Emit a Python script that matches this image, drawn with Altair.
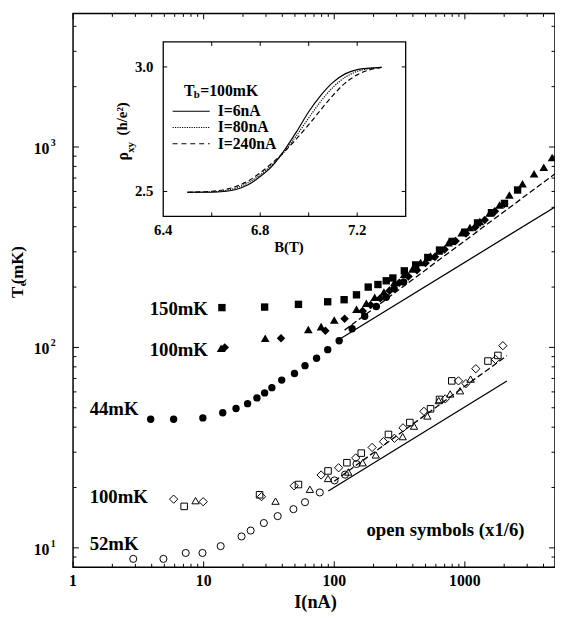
import altair as alt
import pandas as pd

FONT = "Liberation Serif"

# ---------------- main data (I in nA, Te in mK) ----------------
fc_I = [3.93, 5.89, 9.86, 14.0, 17.7, 21.7, 25.6, 29.3, 33.3, 39.6, 49.6, 59.7, 73.2, 89.1, 109, 137, 171, 210, 250, 288, 340]
fc_T = [43.8, 43.8, 44.5, 47.2, 49.6, 52.4, 56.0, 59.3, 63.0, 68.7, 74.1, 81.1, 88.3, 97.5, 108, 124, 143, 160, 178, 196, 212]

fs_I = [13.8, 29.3, 53.2, 89.1, 119, 148, 182, 216, 250, 281, 344, 420, 520, 640, 800, 1000, 1250, 1600, 2010, 2535]
fs_T = [158, 159, 164, 169, 173, 183, 200, 206, 215, 222, 241, 258, 281, 306, 338, 376, 418, 470, 523, 610]

ft_I = [13.6, 29.6, 63.3, 79.3, 100, 148, 176, 204, 240, 289, 343, 397, 458, 545, 631, 750, 946, 1094, 1302, 1549, 1842, 2192, 2764, 3388, 4020, 4655]
ft_T = [99, 111, 123, 127, 137, 155, 166, 178, 189, 211, 232, 246, 265, 286, 303, 333, 373, 397, 425, 468, 514, 576, 656, 735, 793, 887]

fd_I = [14.5, 39.1, 85.5, 120, 165, 190, 225, 265, 315, 370, 430, 500, 590, 700, 850, 1020, 1200, 1420, 1700, 2000]
fd_T = [100, 111, 121, 139, 152, 163, 176, 192, 210, 226, 243, 264, 283, 308, 340, 370, 398, 432, 478, 520]

oc_I = [2.89, 4.92, 7.29, 9.8, 13.5, 19.5, 22.9, 28.9, 36.9, 48.7, 59.7, 77.5, 100.5, 121, 148]
oc_T = [8.81, 8.81, 9.43, 9.43, 10.2, 11.4, 12.2, 13.3, 14.4, 15.6, 16.9, 18.9, 21.7, 23.2, 26.2]

os_I = [7.09, 26.8, 53.2, 89.6, 125, 161, 260, 379, 546, 640, 794, 1503, 1790]
os_T = [16.1, 18.4, 20.7, 24.2, 26.6, 29.7, 36.8, 42.2, 49.4, 55.0, 68.1, 85.5, 91.2]

ot_I = [8.67, 35.5, 65.1, 89.6, 128, 165, 208, 334, 408, 516, 631, 772, 919, 1106]
ot_T = [17.2, 17.1, 19.6, 22.2, 23.9, 26.6, 29.1, 35.9, 40.5, 45.5, 54.3, 58.6, 60.8, 69.5]

od_I = [5.89, 9.92, 27.7, 49.3, 79.3, 108, 146, 195, 238, 289, 336, 486, 708, 893, 1019, 1213, 1718, 1954]
od_T = [17.5, 17.0, 18.0, 20.4, 23.1, 25.1, 28.1, 31.7, 33.9, 35.2, 39.7, 48.0, 55.4, 68.1, 66.0, 78.3, 87.1, 102]

sol_hi_I = [105, 4900]
sol_hi_T = [108, 502]
dash_hi_I = [120, 4900]
dash_hi_T = [122, 735]
sol_lo_I = [90, 2100]
sol_lo_T = [19.2, 68]
dash_lo_I = [100, 2100]
dash_lo_T = [21.5, 91]

ann_text = ["150mK", "100mK", "44mK", "100mK", "52mK", "open symbols (x1/6)"]
ann_I = [3.86, 3.86, 1.34, 1.34, 1.34, 176.5]
ann_T = [156, 97.5, 49.4, 18.0, 10.4, 12.2]

x_major = [1, 10, 100, 1000]
x_major_lab = ["1", "10", "100", "1000"]
x_minor = [2, 3, 4, 5, 6, 7, 8, 9, 20, 30, 40, 50, 60, 70, 80, 90,
           200, 300, 400, 500, 600, 700, 800, 900, 2000, 3000, 4000]
y_major = [10, 100, 1000]
y_major_exp = ["1", "2", "3"]
y_minor = [8, 9, 20, 30, 40, 50, 60, 70, 80, 90, 200, 300, 400, 500, 600, 700, 800, 900, 2000, 3000, 4000]

# ---------------- inset data ----------------
B = [6.50, 6.60, 6.65, 6.70, 6.75, 6.80, 6.85, 6.90, 6.95, 7.00, 7.05, 7.10, 7.15, 7.20, 7.25, 7.30]
rho_6 = [2.497, 2.497, 2.500, 2.508, 2.527, 2.560, 2.603, 2.666, 2.740, 2.820, 2.886, 2.938, 2.972, 2.989, 2.995, 2.998]
rho_80 = [2.497, 2.499, 2.503, 2.514, 2.535, 2.567, 2.608, 2.660, 2.725, 2.795, 2.862, 2.918, 2.958, 2.982, 2.993, 2.998]
rho_240 = [2.497, 2.501, 2.507, 2.520, 2.542, 2.575, 2.615, 2.660, 2.712, 2.768, 2.828, 2.886, 2.935, 2.968, 2.988, 2.998]
b_ticks = [6.6, 6.8, 7.0, 7.2]
b_labels = [6.4, 6.8, 7.2]
b_label_txt = ["6.4", "6.8", "7.2"]
r_ticks = [2.5, 3.0]
r_label_txt = ["2.5", "3.0"]
legend_txt = ["I=6nA", "I=80nA", "I=240nA"]

# ---------------- layout ----------------
W, H = 489, 562
MAJ, MIN = 6, 3.5
XS = alt.Scale(type="log", domain=[1, 4900], nice=False)
YS = alt.Scale(type="log", domain=[8, 4640], nice=False)
IX0, IX1, IY0, IY1 = 91.5, 337.5, 206, 29
BXS = alt.Scale(domain=[6.4, 7.4], range=[IX0, IX1], nice=False, zero=False)
BYS = alt.Scale(domain=[2.4, 3.1], range=[IY0, IY1], nice=False, zero=False)


def X(f):
    return alt.X(f, type="quantitative", scale=XS, axis=None)


def Y(f):
    return alt.Y(f, type="quantitative", scale=YS, axis=None)


def BX(f):
    return alt.X(f, type="quantitative", scale=BXS, axis=None)


def BY(f):
    return alt.Y(f, type="quantitative", scale=BYS, axis=None)


def txt(**kw):
    base = dict(font=FONT, fontWeight="bold", fontSize=16, color="black")
    base.update(kw)
    return base


main_layers = []

# ticks (inward, all four sides)
for vals, ln in [(x_major, MAJ), (x_minor, MIN)]:
    d = pd.DataFrame({"v": vals})
    r = alt.Chart(d).mark_rule(color="black", strokeWidth=1)
    main_layers.append(r.encode(x=X("v"), y=alt.value(H), y2=alt.value(H - ln)))
    main_layers.append(r.encode(x=X("v"), y=alt.value(0), y2=alt.value(ln)))
for vals, ln in [(y_major, MAJ), (y_minor, MIN)]:
    d = pd.DataFrame({"v": vals})
    r = alt.Chart(d).mark_rule(color="black", strokeWidth=1)
    main_layers.append(r.encode(y=Y("v"), x=alt.value(0), x2=alt.value(ln)))
    main_layers.append(r.encode(y=Y("v"), x=alt.value(W), x2=alt.value(W - ln)))

# fit lines
for Ls, Ts, dash in [(sol_hi_I, sol_hi_T, None), (dash_hi_I, dash_hi_T, [6, 3]),
                     (sol_lo_I, sol_lo_T, None), (dash_lo_I, dash_lo_T, [6, 3])]:
    d = pd.DataFrame({"I": Ls, "T": Ts})
    kw = dict(color="black", strokeWidth=1.3)
    if dash:
        kw["strokeDash"] = dash
    main_layers.append(alt.Chart(d).mark_line(**kw).encode(x=X("I"), y=Y("T")))

# open symbols
for Ls, Ts, shape, size in [(oc_I, oc_T, "circle", 52), (os_I, os_T, "square", 44),
                            (ot_I, ot_T, "triangle-up", 55), (od_I, od_T, "diamond", 70)]:
    d = pd.DataFrame({"I": Ls, "T": Ts})
    main_layers.append(alt.Chart(d).mark_point(shape=shape, filled=False, stroke="black",
                                               strokeWidth=1, size=size, opacity=1)
                       .encode(x=X("I"), y=Y("T")))

# filled symbols
for Ls, Ts, shape, size in [(fc_I, fc_T, "circle", 56), (fs_I, fs_T, "square", 56),
                            (ft_I, ft_T, "triangle-up", 78), (fd_I, fd_T, "diamond", 75)]:
    d = pd.DataFrame({"I": Ls, "T": Ts})
    main_layers.append(alt.Chart(d).mark_point(shape=shape, filled=True, fill="black",
                                               size=size, opacity=1, strokeWidth=0)
                       .encode(x=X("I"), y=Y("T")))

# annotations
d = pd.DataFrame({"t": ann_text, "I": ann_I, "T": ann_T})
main_layers.append(alt.Chart(d).mark_text(**txt(align="left", baseline="middle", fontSize=19))
                   .encode(x=X("I"), y=Y("T"), text="t:N"))

# tick labels
d = pd.DataFrame({"v": x_major, "t": x_major_lab})
main_layers.append(alt.Chart(d).mark_text(**txt(align="center", baseline="middle"))
                   .encode(x=X("v"), y=alt.value(H + 14), text="t:N"))
d = pd.DataFrame({"v": y_major, "b": ["10"] * 3, "e": y_major_exp})
main_layers.append(alt.Chart(d).mark_text(**txt(align="right", baseline="middle", dy=2))
                   .encode(y=Y("v"), x=alt.value(-24), text="b:N"))
main_layers.append(alt.Chart(d).mark_text(**txt(align="left", baseline="middle", dy=-4, fontSize=10))
                   .encode(y=Y("v"), x=alt.value(-22.5), text="e:N"))

# axis titles
one = pd.DataFrame({"a": [0]})
main_layers.append(alt.Chart(one).mark_text(**txt(align="center", baseline="middle", fontSize=18.5))
                   .encode(x=alt.value(246), y=alt.value(597), text=alt.value("I(nA)")))
main_layers.append(alt.Chart(one).mark_text(**txt(align="center", baseline="middle", angle=270, fontSize=17))
                   .encode(x=alt.value(-56), y=alt.value(283), text=alt.value("T")))
main_layers.append(alt.Chart(one).mark_text(**txt(align="center", baseline="middle", angle=270, fontSize=11))
                   .encode(x=alt.value(-50.5), y=alt.value(274.5), text=alt.value("e")))
main_layers.append(alt.Chart(one).mark_text(**txt(align="center", baseline="middle", angle=270, fontSize=17))
                   .encode(x=alt.value(-56), y=alt.value(255.5), text=alt.value("(mK)")))

main = alt.layer(*main_layers)

# ---------------- inset ----------------
inset_layers = []
d = pd.DataFrame({"b0": [6.4], "b1": [7.4], "r0": [2.4], "r1": [3.1]})
inset_layers.append(alt.Chart(d).mark_rect(fill="white", stroke="black", strokeWidth=1.3)
                    .encode(x=BX("b0"), x2="b1", y=BY("r0"), y2="r1"))
d = pd.DataFrame({"v": b_ticks})
r = alt.Chart(d).mark_rule(color="black", strokeWidth=1)
inset_layers.append(r.encode(x=BX("v"), y=alt.value(IY0), y2=alt.value(IY0 - 4)))
inset_layers.append(r.encode(x=BX("v"), y=alt.value(IY1), y2=alt.value(IY1 + 4)))
d = pd.DataFrame({"v": r_ticks})
r = alt.Chart(d).mark_rule(color="black", strokeWidth=1)
inset_layers.append(r.encode(y=BY("v"), x=alt.value(IX0), x2=alt.value(IX0 + 4)))
inset_layers.append(r.encode(y=BY("v"), x=alt.value(IX1), x2=alt.value(IX1 - 4)))

for rho, dash in [(rho_240, [5, 3]), (rho_80, [1.2, 1.2]), (rho_6, None)]:
    d = pd.DataFrame({"B": B, "r": rho})
    kw = dict(color="black", strokeWidth=1.2, interpolate="monotone")
    if dash:
        kw["strokeDash"] = dash
    inset_layers.append(alt.Chart(d).mark_line(**kw).encode(x=BX("B"), y=BY("r")))

d = pd.DataFrame({"v": b_labels, "t": b_label_txt})
inset_layers.append(alt.Chart(d).mark_text(**txt(align="center", baseline="middle", fontSize=15))
                    .encode(x=BX("v"), y=alt.value(IY0 + 14), text="t:N"))
d = pd.DataFrame({"v": r_ticks, "t": r_label_txt})
inset_layers.append(alt.Chart(d).mark_text(**txt(align="right", baseline="middle", fontSize=15))
                    .encode(y=BY("v"), x=alt.value(IX0 - 10), text="t:N"))
inset_layers.append(alt.Chart(one).mark_text(**txt(align="center", baseline="middle", fontSize=15))
                    .encode(x=alt.value(219), y=alt.value(237), text=alt.value("B(T)")))
# inset y title
inset_layers.append(alt.Chart(one).mark_text(**txt(align="center", baseline="middle", angle=270, fontSize=16))
                    .encode(x=alt.value(51), y=alt.value(145), text=alt.value("ρ")))
inset_layers.append(alt.Chart(one).mark_text(**txt(align="center", baseline="middle", angle=270, fontSize=11))
                    .encode(x=alt.value(58.5), y=alt.value(136), text=alt.value("xy")))
inset_layers.append(alt.Chart(one).mark_text(**txt(align="center", baseline="middle", angle=270, fontSize=15))
                    .encode(x=alt.value(50), y=alt.value(107), text=alt.value("(h/e²)")))
# inset legend
inset_layers.append(alt.Chart(one).mark_text(**txt(align="left", baseline="middle"))
                    .encode(x=alt.value(112.5), y=alt.value(79), text=alt.value("T")))
inset_layers.append(alt.Chart(one).mark_text(**txt(align="left", baseline="middle", fontSize=11))
                    .encode(x=alt.value(122.5), y=alt.value(83), text=alt.value("b")))
inset_layers.append(alt.Chart(one).mark_text(**txt(align="left", baseline="middle"))
                    .encode(x=alt.value(129), y=alt.value(79), text=alt.value("=100mK")))
for i, (t, dash) in enumerate(zip(legend_txt, [None, [1.2, 1.2], [5, 4]])):
    yy = 99.3 + 16.5 * i
    kw = dict(color="black", strokeWidth=1.2)
    if dash:
        kw["strokeDash"] = dash
    inset_layers.append(alt.Chart(one).mark_rule(**kw)
                        .encode(x=alt.value(101), x2=alt.value(138.7), y=alt.value(yy)))
    inset_layers.append(alt.Chart(one).mark_text(**txt(align="left", baseline="middle"))
                        .encode(x=alt.value(146.7), y=alt.value(yy), text=alt.value(t)))

inset = alt.layer(*inset_layers)

chart = (
    alt.layer(main, inset)
    .resolve_scale(x="independent", y="independent")
    .properties(width=W, height=H, autosize=alt.AutoSizeParams(type="none"),
                padding={"left": 66, "top": 1, "right": 0, "bottom": 48})
    .configure_view(stroke="black", strokeWidth=1.5)
)

chart.save("out.html", embed_options={"renderer": "svg", "actions": False})
